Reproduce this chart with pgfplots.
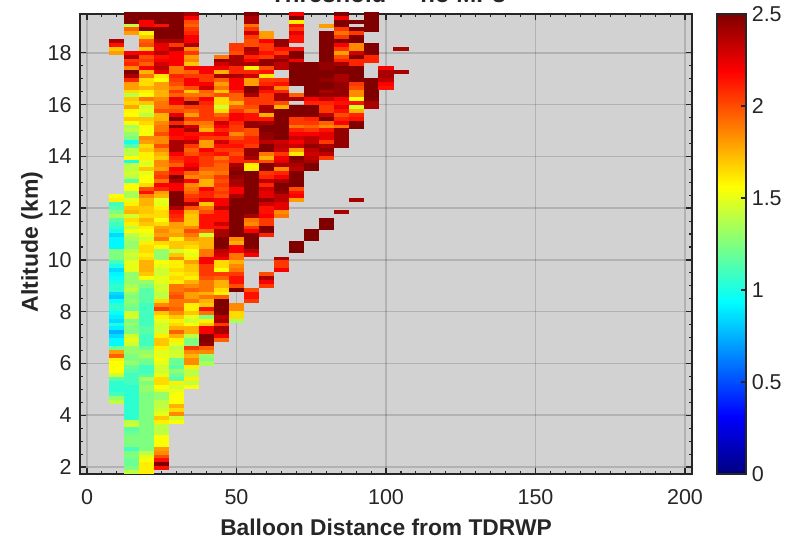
\documentclass[border=0pt]{standalone}
\usepackage{pgfplots}
\pgfplotsset{compat=1.18}
\usepackage{fontspec}
\setmainfont{Liberation Sans}
\definecolor{ink}{HTML}{262626}
\definecolor{panel}{HTML}{D2D2D2}
% one grid cell: 5 units wide, 150 m tall
\pgfdeclareplotmark{cell}{%
  \pgfpathrectangle{\pgfqpoint{-7.55pt}{-2.05pt}}{\pgfqpoint{15.1pt}{4.1pt}}%
  \pgfusepathqfill}
\pgfplotsset{binbox/.style={scatter,only marks,mark=cell,point meta=explicit}}
\begin{document}
\begin{tikzpicture}[x=1pt,y=1pt]
\path[use as bounding box] (0,0) rectangle (796,539);
\begin{axis}[
  at={(80pt,65pt)},anchor=south west,
  scale only axis,width=612pt,height=460pt,
  xmin=-2.34,xmax=202.34,ymin=1.73,ymax=19.5,
  xtick={0,50,100,150,200},ytick={2,4,...,18},
  minor x tick num=9,minor y tick num=3,
  tick align=inside,
  major tick length=6pt,minor tick length=3pt,
  tick style={ink,line width=1.3pt},
  minor tick style={ink,line width=1.1pt},
  axis line style={ink,line width=2.2pt},
  axis background/.style={fill=panel},
  axis on top,
  grid=major,
  major grid style={black,opacity=0.15,line width=1.5pt},
  colormap/jet,
  point meta min=0,point meta max=2.5,
  /pgf/number format/assume math mode=true,
  tick label style={font=\fontsize{21.5}{23}\selectfont,text=ink},
  xticklabel style={yshift=-12pt},
  yticklabel style={xshift=-5pt},
  xlabel={\textbf{Balloon Distance from TDRWP}},
  xlabel style={font=\fontsize{22.8}{25}\selectfont,text=ink,at={(axis description cs:0.5,0)},anchor=base,yshift=-61pt},
  ylabel={\textbf{Altitude (km)}},
  ylabel style={font=\fontsize{23}{25}\selectfont,text=ink,at={(axis description cs:0,0.5)},anchor=base,rotate=0,yshift=42pt,xshift=2pt},
  title={\textbf{Threshold~~= no MPs}},
  title style={font=\fontsize{24}{26}\selectfont,text=ink,at={(axis description cs:0.5,1)},anchor=base,yshift=5pt,xshift=2pt},
  colorbar,
  colorbar/width=29pt,
  colorbar shift/.style={xshift=11pt},
  colorbar style={
    scale only axis,height=460pt,
    ytick={0,0.5,1,1.5,2,2.5},
    minor y tick num=0,
    yticklabel pos=right,ytick pos=right,
    tick align=inside,major tick length=5pt,
    grid=none,
    axis line style={ink,line width=2pt},
    tick style={ink,line width=1.3pt},
    yticklabel style={font=\fontsize{21.5}{23}\selectfont,text=ink,xshift=2pt,
      /pgf/number format/assume math mode=true},
  },
]
\addplot[binbox] table[x expr=10,y=y,meta=c,row sep=\\]{y c\\
18.45 2.4\\ 18.3 2.15\\ 18.15 1.7\\ 18 1.8\\
12.45 1.55\\ 12.3 1.6\\ 12.15 1.1\\ 12 1.15\\ 11.85 1.25\\ 11.7 1.35\\ 11.55 1.15\\ 11.4 1.1\\ 11.25 1.05\\ 11.1 1\\ 10.95 .85\\ 10.8 .92\\ 10.65 .92\\ 10.5 .92\\ 10.35 1.25\\ 10.2 1.25\\ 10.05 1.25\\ 9.9 1.1\\ 9.75 1\\ 9.6 .85\\ 9.45 .92\\ 9.3 .95\\ 9.15 1\\ 9 1.05\\ 8.85 1.05\\ 8.7 .85\\ 8.55 .8\\ 8.4 .95\\ 8.25 1.05\\ 8.1 1.05\\ 7.95 .95\\ 7.8 .9\\ 7.65 .85\\ 7.5 1\\ 7.35 .9\\ 7.2 .75\\ 7.05 .85\\ 6.9 .93\\ 6.75 .93\\ 6.6 1.2\\ 6.45 1.8\\ 6.3 1.95\\ 6.15 1.6\\ 6 1.56\\ 5.85 1.56\\ 5.7 1.56\\ 5.55 1.45\\ 5.4 1.15\\ 5.25 1.05\\ 5.1 1.05\\ 4.95 1.05\\ 4.8 1.1\\ 4.65 1.3\\ 4.5 1.4\\
};
\addplot[binbox] table[x expr=15,y=y,meta=c,row sep=\\]{y c\\
19.5 2.5\\ 19.35 2.5\\ 19.2 2.5\\ 19.05 1.4\\ 18.9 1.95\\ 18.75 1.8\\
18 2.2\\ 17.85 2.4\\ 17.7 2.05\\ 17.55 2.1\\ 17.4 1.85\\ 17.25 2.5\\ 17.1 2.4\\ 16.95 2.1\\ 16.8 1.8\\ 16.65 1.8\\ 16.5 1.65\\ 16.35 1.4\\ 16.2 1.7\\ 16.05 1.65\\ 15.9 1.78\\ 15.75 1.58\\ 15.6 1.56\\ 15.45 1.7\\ 15.3 1.55\\ 15.15 1.35\\ 15 1.4\\ 14.85 1.3\\ 14.7 1.25\\ 14.55 1\\ 14.4 1.15\\ 14.25 1.4\\ 14.1 1.4\\ 13.95 1.55\\ 13.8 1\\ 13.65 1.4\\ 13.5 1.4\\ 13.35 1.45\\ 13.2 1.4\\ 13.05 1.15\\ 12.9 1.55\\ 12.75 1.55\\ 12.6 1.35\\ 12.45 1.35\\ 12.3 1.5\\ 12.15 1.6\\ 12 1.7\\ 11.85 1.75\\ 11.7 1.45\\ 11.55 1.65\\ 11.4 1.6\\ 11.25 1.4\\ 11.1 1.55\\ 10.95 1.4\\ 10.8 1.35\\ 10.65 1.3\\ 10.5 1.3\\ 10.35 1.4\\ 10.2 1.45\\ 10.05 1.4\\ 9.9 1.5\\ 9.75 1.5\\ 9.6 1.5\\ 9.45 1.3\\ 9.3 1.3\\ 9.15 1.3\\ 9 1.35\\ 8.85 1.4\\ 8.7 1.3\\ 8.55 1.25\\ 8.4 1.3\\ 8.25 1.25\\ 8.1 1.2\\ 7.95 1.45\\ 7.8 1.45\\ 7.65 1.25\\ 7.5 1.3\\ 7.35 1.25\\ 7.2 1.25\\ 7.05 1.45\\ 6.9 1.5\\ 6.75 1.45\\ 6.6 1.3\\ 6.45 1.3\\ 6.3 1.25\\ 6.15 1.25\\ 6 1.3\\ 5.85 1.2\\ 5.7 1.15\\ 5.55 1.1\\ 5.4 1.1\\ 5.25 1.1\\ 5.1 1.05\\ 4.95 1.05\\ 4.8 1.05\\ 4.65 1.05\\ 4.5 1.05\\ 4.35 1.05\\ 4.2 1.05\\ 4.05 1.05\\ 3.9 1.05\\ 3.75 1.4\\ 3.6 1.45\\ 3.45 1.15\\ 3.3 1.2\\ 3.15 1.25\\ 3 1.25\\ 2.85 1.25\\ 2.7 1.1\\ 2.55 1.25\\ 2.4 1.25\\ 2.25 1.2\\ 2.1 1.2\\ 1.95 1.25\\ 1.8 1.4\\
};
\addplot[binbox] table[x expr=20,y=y,meta=c,row sep=\\]{y c\\
19.5 2.5\\ 19.35 2.5\\ 19.2 2.2\\ 19.05 2.2\\ 18.9 2.5\\ 18.75 1.58\\ 18.6 1.7\\ 18.45 1.95\\ 18.3 2\\ 18.15 1.7\\ 18 2.2\\ 17.85 2\\ 17.7 2.05\\ 17.55 1.95\\ 17.4 2.2\\ 17.25 1.75\\ 17.1 1.9\\ 16.95 1.65\\ 16.8 1.65\\ 16.65 1.75\\ 16.5 1.6\\ 16.35 1.55\\ 16.2 1.9\\ 16.05 1.7\\ 15.9 1.45\\ 15.75 1.5\\ 15.6 1.4\\ 15.45 1.7\\ 15.3 1.65\\ 15.15 1.58\\ 15 1.55\\ 14.85 1.55\\ 14.7 1.85\\ 14.55 1.8\\ 14.4 1.65\\ 14.25 1.7\\ 14.1 1.6\\ 13.95 1.6\\ 13.8 1.5\\ 13.65 1.5\\ 13.5 1.7\\ 13.35 1.5\\ 13.2 1.55\\ 13.05 1.55\\ 12.9 1.65\\ 12.75 2\\ 12.6 2.15\\ 12.45 1.85\\ 12.3 1.75\\ 12.15 1.75\\ 12 1.7\\ 11.85 1.7\\ 11.7 1.65\\ 11.55 1.75\\ 11.4 1.7\\ 11.25 1.6\\ 11.1 1.55\\ 10.95 1.5\\ 10.8 1.45\\ 10.65 1.6\\ 10.5 1.65\\ 10.35 1.65\\ 10.2 1.6\\ 10.05 1.65\\ 9.9 1.75\\ 9.75 1.75\\ 9.6 1.75\\ 9.45 1.7\\ 9.3 1.55\\ 9.15 1.3\\ 9 1.25\\ 8.85 1.15\\ 8.7 1.15\\ 8.55 1.15\\ 8.4 1.15\\ 8.25 1.1\\ 8.1 1.1\\ 7.95 1.1\\ 7.8 1.1\\ 7.65 1.1\\ 7.5 1.1\\ 7.35 1.15\\ 7.2 1.15\\ 7.05 1.1\\ 6.9 1.1\\ 6.75 1.1\\ 6.6 1.2\\ 6.45 1.3\\ 6.3 1.35\\ 6.15 1.25\\ 6 1.2\\ 5.85 1.1\\ 5.7 1.1\\ 5.55 1.15\\ 5.4 1.35\\ 5.25 1.25\\ 5.1 1.3\\ 4.95 1.3\\ 4.8 1.25\\ 4.65 1.25\\ 4.5 1.25\\ 4.35 1.25\\ 4.2 1.25\\ 4.05 1.25\\ 3.9 1.25\\ 3.75 1.25\\ 3.6 1.25\\ 3.45 1.25\\ 3.3 1.25\\ 3.15 1.25\\ 3 1.25\\ 2.85 1.25\\ 2.7 1.25\\ 2.55 1.4\\ 2.4 1.5\\ 2.25 1.55\\ 2.1 1.6\\ 1.95 1.6\\ 1.8 1.6\\
};
\addplot[binbox] table[x expr=25,y=y,meta=c,row sep=\\]{y c\\
19.5 2.5\\ 19.35 2.5\\ 19.2 2.5\\ 19.05 2.15\\ 18.9 2.5\\ 18.75 2.5\\ 18.6 2.5\\ 18.45 2.4\\ 18.3 2.25\\ 18.15 2.25\\ 18 2.35\\ 17.85 2.15\\ 17.7 2.2\\ 17.55 2.3\\ 17.4 2.35\\ 17.25 2.25\\ 17.1 1.62\\ 16.95 1.56\\ 16.8 1.8\\ 16.65 1.8\\ 16.5 1.75\\ 16.35 1.75\\ 16.2 1.85\\ 16.05 1.9\\ 15.9 1.9\\ 15.75 2\\ 15.6 1.75\\ 15.45 1.75\\ 15.3 1.85\\ 15.15 1.9\\ 15 1.9\\ 14.85 2\\ 14.7 1.85\\ 14.55 1.85\\ 14.4 2\\ 14.25 1.85\\ 14.1 1.75\\ 13.95 1.7\\ 13.8 1.85\\ 13.65 1.85\\ 13.5 1.8\\ 13.35 2\\ 13.2 2.05\\ 13.05 1.9\\ 12.9 2.2\\ 12.75 2.1\\ 12.6 1.8\\ 12.45 1.75\\ 12.3 1.5\\ 12.15 1.5\\ 12 1.6\\ 11.85 1.65\\ 11.7 1.65\\ 11.55 1.55\\ 11.4 1.65\\ 11.25 1.8\\ 11.1 1.85\\ 10.95 1.8\\ 10.8 1.9\\ 10.65 1.65\\ 10.5 1.58\\ 10.35 1.3\\ 10.2 1.3\\ 10.05 1.3\\ 9.9 1.55\\ 9.75 1.5\\ 9.6 1.45\\ 9.45 1.45\\ 9.3 1.5\\ 9.15 1.5\\ 9 1.45\\ 8.85 1.45\\ 8.7 1.4\\ 8.55 1.4\\ 8.4 1.65\\ 8.25 1.85\\ 8.1 2.05\\ 7.95 1.7\\ 7.8 1.6\\ 7.65 1.5\\ 7.5 1.45\\ 7.35 1.45\\ 7.2 1.45\\ 7.05 1.6\\ 6.9 1.7\\ 6.75 1.7\\ 6.6 1.6\\ 6.45 1.5\\ 6.3 1.5\\ 6.15 1.55\\ 6 1.5\\ 5.85 1.45\\ 5.7 1.45\\ 5.55 1.5\\ 5.4 1.65\\ 5.25 1.65\\ 5.1 1.55\\ 4.95 1.5\\ 4.8 1.3\\ 4.65 1.3\\ 4.5 1.4\\ 4.35 1.4\\ 4.2 1.45\\ 4.05 1.5\\ 3.9 1.7\\ 3.75 1.6\\ 3.6 1.4\\ 3.45 1.4\\ 3.3 1.4\\ 3.15 1.55\\ 3 1.55\\ 2.85 1.55\\ 2.7 1.8\\ 2.55 1.85\\ 2.4 2\\ 2.25 2.15\\ 2.1 2.5\\ 1.95 2.15\\
};
\addplot[binbox] table[x expr=30,y=y,meta=c,row sep=\\]{y c\\
19.5 2.5\\ 19.35 2.5\\ 19.2 2.5\\ 19.05 2.5\\ 18.9 2.5\\ 18.75 2.5\\ 18.6 2.5\\ 18.45 2.4\\ 18.3 2.05\\ 18.15 2.4\\ 18 2.2\\ 17.85 2.2\\ 17.7 2.2\\ 17.55 2.2\\ 17.4 1.9\\ 17.25 1.9\\ 17.1 2.1\\ 16.95 2.05\\ 16.8 2\\ 16.65 1.9\\ 16.5 2.05\\ 16.35 1.95\\ 16.2 2.25\\ 16.05 2.2\\ 15.9 1.95\\ 15.75 2\\ 15.6 2.25\\ 15.45 2.5\\ 15.3 2.1\\ 15.15 2.5\\ 15 2.2\\ 14.85 2.2\\ 14.7 2.15\\ 14.55 2.4\\ 14.4 2.4\\ 14.25 2.4\\ 14.1 2.2\\ 13.95 2.1\\ 13.8 2.05\\ 13.65 1.95\\ 13.5 2.2\\ 13.35 2.15\\ 13.2 2.5\\ 13.05 2.4\\ 12.9 2.2\\ 12.75 2.2\\ 12.6 2.5\\ 12.45 2.5\\ 12.3 2.5\\ 12.15 2.5\\ 12 2.4\\ 11.85 2.15\\ 11.7 2.1\\ 11.55 2.05\\ 11.4 1.8\\ 11.25 1.8\\ 11.1 1.75\\ 10.95 1.8\\ 10.8 1.6\\ 10.65 1.7\\ 10.5 1.7\\ 10.35 1.45\\ 10.2 1.7\\ 10.05 1.85\\ 9.9 1.6\\ 9.75 1.6\\ 9.6 1.65\\ 9.45 1.6\\ 9.3 1.65\\ 9.15 1.6\\ 9 1.9\\ 8.85 1.9\\ 8.7 1.95\\ 8.55 2\\ 8.4 1.9\\ 8.25 1.9\\ 8.1 1.95\\ 7.95 1.85\\ 7.8 1.7\\ 7.65 1.6\\ 7.5 1.65\\ 7.35 1.75\\ 7.2 1.95\\ 7.05 1.75\\ 6.9 1.6\\ 6.75 1.5\\ 6.6 1.4\\ 6.45 1.45\\ 6.3 1.45\\ 6.15 1.2\\ 6 1.2\\ 5.85 1.15\\ 5.7 1.3\\ 5.55 1.2\\ 5.4 1.15\\ 5.25 1.6\\ 5.1 1.45\\ 4.95 1.5\\ 4.8 1.55\\ 4.65 1.55\\ 4.5 1.55\\ 4.35 1.75\\ 4.2 1.65\\ 4.05 1.85\\ 3.9 1.45\\ 3.75 1.55\\
};
\addplot[binbox] table[x expr=35,y=y,meta=c,row sep=\\]{y c\\
19.5 2.4\\ 19.35 2.2\\ 19.2 2\\ 19.05 1.95\\ 18.9 2.05\\ 18.75 2.1\\ 18.6 2.2\\ 18.45 2.2\\ 18.3 2.4\\ 18.15 1.85\\ 18 2.05\\ 17.85 1.8\\ 17.7 1.85\\ 17.55 1.7\\ 17.4 2.2\\ 17.25 1.95\\ 17.1 2.05\\ 16.95 2.2\\ 16.8 2.2\\ 16.65 2\\ 16.5 1.7\\ 16.35 1.9\\ 16.2 2\\ 16.05 2.5\\ 15.9 2.05\\ 15.75 1.95\\ 15.6 1.8\\ 15.45 2.05\\ 15.3 1.9\\ 15.15 2.3\\ 15 2.4\\ 14.85 2.15\\ 14.7 2.2\\ 14.55 2.35\\ 14.4 2.05\\ 14.25 1.95\\ 14.1 2\\ 13.95 2.15\\ 13.8 2.15\\ 13.65 2.2\\ 13.5 2.3\\ 13.35 1.95\\ 13.2 1.85\\ 13.05 2.2\\ 12.9 1.85\\ 12.75 1.9\\ 12.6 1.95\\ 12.45 2.05\\ 12.3 2.1\\ 12.15 2.4\\ 12 2\\ 11.85 1.75\\ 11.7 1.7\\ 11.55 1.7\\ 11.4 1.7\\ 11.25 1.85\\ 11.1 2\\ 10.95 1.9\\ 10.8 1.8\\ 10.65 1.7\\ 10.5 1.65\\ 10.35 1.55\\ 10.2 1.5\\ 10.05 1.6\\ 9.9 1.8\\ 9.75 1.7\\ 9.6 1.7\\ 9.45 1.65\\ 9.3 1.6\\ 9.15 1.75\\ 9 1.85\\ 8.85 1.95\\ 8.7 1.8\\ 8.55 1.8\\ 8.4 1.9\\ 8.25 1.6\\ 8.1 1.6\\ 7.95 1.7\\ 7.8 1.5\\ 7.65 1.45\\ 7.5 1.55\\ 7.35 1.75\\ 7.2 1.75\\ 7.05 1.4\\ 6.9 1.25\\ 6.75 1.25\\ 6.6 2.05\\ 6.45 1.85\\ 6.3 1.75\\ 6.15 1.85\\ 6 1.85\\ 5.85 1.6\\ 5.7 1.4\\ 5.55 1.4\\ 5.4 1.6\\ 5.25 1.4\\ 5.1 1.55\\
};
\addplot[binbox] table[x expr=40,y=y,meta=c,row sep=\\]{y c\\
17.4 2.2\\ 17.25 2.2\\ 17.1 2.05\\ 16.95 2.05\\ 16.8 2.2\\ 16.65 2.3\\ 16.5 1.95\\ 16.35 1.9\\ 16.2 2.2\\ 16.05 2.1\\ 15.9 2.05\\ 15.75 2.05\\ 15.6 2.05\\ 15.45 2.05\\ 15.3 1.9\\ 15.15 1.85\\ 15 1.75\\ 14.85 2.15\\ 14.7 2.05\\ 14.55 1.8\\ 14.4 1.8\\ 14.25 2.2\\ 14.1 2.1\\ 13.95 2.05\\ 13.8 2.05\\ 13.65 2.05\\ 13.5 1.95\\ 13.35 1.85\\ 13.2 1.9\\ 13.05 1.75\\ 12.9 1.75\\ 12.75 2.2\\ 12.6 2.1\\ 12.45 2.1\\ 12.3 2.25\\ 12.15 1.7\\ 12 1.9\\ 11.85 2\\ 11.7 2.15\\ 11.55 2.15\\ 11.4 2.15\\ 11.25 2.15\\ 11.1 1.95\\ 10.95 1.45\\ 10.8 1.75\\ 10.65 1.75\\ 10.5 1.75\\ 10.35 1.9\\ 10.2 1.9\\ 10.05 2.2\\ 9.9 2.2\\ 9.75 2.05\\ 9.6 2.05\\ 9.45 2.05\\ 9.3 2\\ 9.15 1.9\\ 9 1.9\\ 8.85 1.9\\ 8.7 1.75\\ 8.55 1.9\\ 8.4 1.75\\ 8.25 1.7\\ 8.1 2.15\\ 7.95 1.9\\ 7.8 1.25\\ 7.65 1.6\\ 7.5 1.7\\ 7.35 2.2\\ 7.2 2.2\\ 7.05 2.5\\ 6.9 2.5\\ 6.75 2.45\\ 6.6 1.95\\ 6.45 1.85\\ 6.3 1.3\\ 6.15 1.25\\ 6 1.35\\
};
\addplot[binbox] table[x expr=45,y=y,meta=c,row sep=\\]{y c\\
17.85 1.9\\ 17.7 2.45\\ 17.55 2.3\\ 17.4 2.2\\ 17.25 1.75\\ 17.1 2.4\\ 16.95 1.95\\ 16.8 1.8\\ 16.65 1.9\\ 16.5 1.7\\ 16.35 2\\ 16.2 1.65\\ 16.05 1.65\\ 15.9 1.45\\ 15.75 1.65\\ 15.6 1.95\\ 15.45 2.05\\ 15.3 2.3\\ 15.15 2.2\\ 15 2.1\\ 14.85 2.2\\ 14.7 2.05\\ 14.55 2.3\\ 14.4 2.15\\ 14.25 2.05\\ 14.1 2.15\\ 13.95 1.9\\ 13.8 2\\ 13.65 1.95\\ 13.5 1.95\\ 13.35 1.9\\ 13.2 2.05\\ 13.05 2\\ 12.9 2.05\\ 12.75 2\\ 12.6 2.05\\ 12.45 2\\ 12.3 2.2\\ 12.15 2.2\\ 12 2.35\\ 11.85 2.15\\ 11.7 2.15\\ 11.55 2.15\\ 11.4 2.3\\ 11.25 2.15\\ 11.1 2.4\\ 10.95 2.4\\ 10.8 2.5\\ 10.65 2.5\\ 10.5 2.5\\ 10.35 2.35\\ 10.2 2.3\\ 10.05 2.2\\ 9.9 1.65\\ 9.75 1.65\\ 9.6 1.55\\ 9.45 2.05\\ 9.3 1.95\\ 9.15 1.75\\ 9 1.75\\ 8.85 1.65\\ 8.7 1.6\\ 8.55 1.95\\ 8.4 2.5\\ 8.25 2.5\\ 8.1 2.5\\ 7.95 2.5\\ 7.8 2.35\\ 7.65 2.4\\ 7.5 2.05\\ 7.35 2.4\\ 7.2 2.4\\ 7.05 2.2\\ 6.9 1.95\\
};
\addplot[binbox] table[x expr=50,y=y,meta=c,row sep=\\]{y c\\
18.3 2.05\\ 18.15 2.05\\ 18 2\\ 17.85 2.4\\ 17.7 2.4\\ 17.55 2.4\\ 17.4 2.1\\ 17.25 2.1\\ 17.1 2.4\\ 16.95 2.2\\ 16.8 2.2\\ 16.65 2.2\\ 16.5 2.1\\ 16.35 1.95\\ 16.2 1.95\\ 16.05 1.75\\ 15.9 1.95\\ 15.75 2.05\\ 15.6 2.2\\ 15.45 2.2\\ 15.3 2.1\\ 15.15 2.05\\ 15 2.05\\ 14.85 1.85\\ 14.7 2\\ 14.55 2.1\\ 14.4 2.15\\ 14.25 2.05\\ 14.1 2\\ 13.95 2.1\\ 13.8 2.1\\ 13.65 2.4\\ 13.5 2.45\\ 13.35 2.5\\ 13.2 2.45\\ 13.05 2.4\\ 12.9 2.4\\ 12.75 2.2\\ 12.6 2.2\\ 12.45 2.4\\ 12.3 2.5\\ 12.15 2.5\\ 12 2.5\\ 11.85 2.5\\ 11.7 2.5\\ 11.55 2.5\\ 11.4 2.5\\ 11.25 2.5\\ 11.1 2.5\\ 10.95 2.5\\ 10.8 1.85\\ 10.65 1.75\\ 10.5 2.2\\ 10.35 2.2\\ 10.2 1.9\\ 10.05 1.9\\ 9.9 1.75\\ 9.75 1.85\\ 9.6 1.9\\ 9.45 2.05\\ 9.3 2.15\\ 9.15 2.15\\ 9 2\\ 8.85 2.5\\
8.25 1.85\\ 8.1 1.85\\ 7.95 1.65\\ 7.8 1.65\\ 7.65 1.35\\
};
\addplot[binbox] table[x expr=55,y=y,meta=c,row sep=\\]{y c\\
19.5 2.5\\ 19.35 2.4\\ 19.2 2.4\\ 19.05 1.9\\ 18.9 2.05\\ 18.75 2.3\\ 18.6 2.05\\ 18.45 2\\ 18.3 2\\ 18.15 2.4\\ 18 2.35\\ 17.85 2.1\\ 17.7 2.2\\ 17.55 2.4\\ 17.4 1.6\\ 17.25 2.1\\ 17.1 2.3\\ 16.95 1.8\\ 16.8 1.8\\ 16.65 2.5\\ 16.5 2.5\\ 16.35 2.4\\ 16.2 2.05\\ 16.05 2.05\\ 15.9 2\\ 15.75 1.9\\ 15.6 2.15\\ 15.45 2.15\\ 15.3 2.45\\ 15.15 2.45\\ 15 2\\ 14.85 2\\ 14.7 2.1\\ 14.55 2.1\\ 14.4 2.05\\ 14.25 2.45\\ 14.1 2.45\\ 13.95 2.4\\ 13.8 2.1\\ 13.65 1.6\\ 13.5 1.6\\ 13.35 2.5\\ 13.2 2.5\\ 13.05 2.5\\ 12.9 2.5\\ 12.75 2.5\\ 12.6 2.5\\ 12.45 2.5\\ 12.3 2.5\\ 12.15 2.5\\ 12 2.5\\ 11.85 2.5\\ 11.7 2.4\\ 11.55 1.9\\ 11.4 1.85\\ 11.25 2.05\\ 11.1 2.2\\ 10.95 2.5\\ 10.8 2.5\\ 10.65 2.5\\ 10.5 2.5\\ 10.35 2.35\\ 10.2 2.2\\
8.85 2\\ 8.7 2.15\\ 8.55 2.15\\ 8.4 2.05\\
};
\addplot[binbox] table[x expr=60,y=y,meta=c,row sep=\\]{y c\\
18.75 1.8\\ 18.6 1.8\\ 18.45 2.2\\ 18.3 2.05\\ 18.15 2.05\\ 18 2.15\\ 17.85 2.05\\ 17.7 2.45\\ 17.55 2.45\\ 17.4 2\\ 17.25 2.15\\ 17.1 1.62\\ 16.95 2.05\\ 16.8 2.1\\ 16.65 2.3\\ 16.5 2.15\\ 16.35 2.05\\ 16.2 2.05\\ 16.05 2.05\\ 15.9 2.4\\ 15.75 2.4\\ 15.6 1.75\\ 15.45 2.15\\ 15.3 2.4\\ 15.15 2.5\\ 15 2.5\\ 14.85 2.45\\ 14.7 2.45\\ 14.55 2.35\\ 14.4 2.5\\ 14.25 2.5\\ 14.1 1.9\\ 13.95 1.75\\ 13.8 2\\ 13.65 2.5\\ 13.5 2.5\\ 13.35 2.05\\ 13.2 2.1\\ 13.05 2.35\\ 12.9 2.1\\ 12.75 2.3\\ 12.6 2.25\\ 12.45 2.25\\ 12.3 2.45\\ 12.15 2.3\\ 12 2.15\\ 11.85 2.15\\ 11.7 2.2\\ 11.55 2.05\\ 11.4 2.05\\ 11.25 2.5\\ 11.1 2.5\\ 10.95 2.1\\
9.45 2\\ 9.3 2.4\\ 9.15 2.2\\ 9 2.05\\
};
\addplot[binbox] table[x expr=65,y=y,meta=c,row sep=\\]{y c\\
18.45 2.45\\ 18.3 2.45\\ 18.15 2.15\\ 18 2.05\\ 17.85 2.35\\ 17.7 2.45\\ 17.55 2.35\\ 17.4 2.35\\ 16.95 2.05\\ 16.8 2.15\\ 16.65 1.85\\ 16.5 2.1\\ 16.35 2.4\\ 16.2 2.4\\ 16.05 2\\ 15.9 1.75\\ 15.75 2.5\\ 15.6 2.5\\ 15.45 2.5\\ 15.3 2.5\\ 15.15 2.5\\ 15 2.5\\ 14.85 2.5\\ 14.7 2.5\\ 14.55 2.3\\ 14.4 2.35\\ 14.25 2.3\\ 14.1 2.05\\ 13.95 2.2\\ 13.8 2.25\\ 13.65 2.4\\ 13.5 1.85\\ 13.35 2.1\\ 13.2 2.2\\ 13.05 2.4\\ 12.9 2.5\\ 12.75 2.5\\ 12.6 2.45\\ 12.45 2.35\\ 12.3 2.35\\ 12.15 2.25\\ 12 2.25\\ 11.85 1.85\\ 11.7 1.9\\
10.05 2.4\\ 9.9 2.05\\ 9.75 2.05\\ 9.6 2.2\\
};
\addplot[binbox] table[x expr=70,y=y,meta=c,row sep=\\]{y c\\
19.5 2.2\\ 19.35 2.5\\ 19.2 1.6\\ 19.05 2.15\\ 18.9 2.05\\ 18.75 2.25\\ 18.6 2.15\\ 18.45 2.15\\ 18.15 2.15\\ 18 2.5\\ 17.85 2.5\\ 17.7 2.2\\ 17.55 2.5\\ 17.4 2.5\\ 17.25 2.5\\ 17.1 2.5\\ 16.95 2.5\\ 16.8 2.5\\ 16.35 1.95\\ 16.2 2.4\\ 15.9 2.5\\ 15.75 2.5\\ 15.6 2.5\\ 15.45 2.05\\ 15.3 2.05\\ 15.15 1.9\\ 15 2.1\\ 14.85 2.2\\ 14.7 2.3\\ 14.55 2.2\\ 14.4 2.3\\ 14.25 1.8\\ 14.1 1.62\\ 13.95 2.5\\ 13.8 2.45\\ 13.65 2.4\\ 13.5 2.35\\ 13.35 2.5\\ 13.2 2.5\\ 13.05 2.5\\ 12.9 2.5\\ 12.75 2\\ 12.6 2.15\\ 12.45 2.2\\ 12.3 1.8\\
10.65 2.5\\ 10.5 2.5\\ 10.35 2.5\\
};
\addplot[binbox] table[x expr=75,y=y,meta=c,row sep=\\]{y c\\
17.55 2.5\\ 17.4 2.5\\ 17.25 2.5\\ 17.1 2.5\\ 16.95 2.5\\ 16.8 2.5\\ 16.65 2.5\\ 16.5 2.5\\ 16.35 2.5\\ 16.2 2.2\\ 16.05 2.1\\ 15.9 2.5\\ 15.75 2.5\\ 15.6 2.5\\ 15.45 2.1\\ 15.3 2.05\\ 15.15 1.95\\ 15 2.05\\ 14.85 2.2\\ 14.7 2.35\\ 14.55 2.35\\ 14.4 2.45\\ 14.25 2.35\\ 14.1 2.3\\ 13.95 2.35\\ 13.8 2.4\\ 13.65 2.5\\ 13.5 2.5\\
11.1 2.5\\ 10.95 2.5\\ 10.8 2.5\\
};
\addplot[binbox] table[x expr=80,y=y,meta=c,row sep=\\]{y c\\
19.05 1.8\\ 18.75 2.5\\ 18.6 2.5\\ 18.45 2.5\\ 18.3 2.5\\ 18.15 2.5\\ 18 2.5\\ 17.85 2.5\\ 17.7 2.5\\ 17.55 2.45\\ 17.4 2.45\\ 17.25 2.5\\ 17.1 2.5\\ 16.95 2.45\\ 16.8 2.5\\ 16.65 2.5\\ 16.5 2.4\\ 16.35 2.45\\ 16.2 2.3\\ 16.05 2.1\\ 15.9 2.05\\ 15.75 2.05\\ 15.6 2.35\\ 15.45 2.5\\ 15.3 1.95\\ 15.15 1.85\\ 15 2.15\\ 14.85 2.25\\ 14.7 2.25\\ 14.55 2.05\\ 14.4 2.4\\ 14.25 2.45\\ 14.1 2.35\\ 13.95 2.05\\
11.55 2.5\\ 11.4 2.5\\ 11.25 2.5\\
};
\addplot[binbox] table[x expr=85,y=y,meta=c,row sep=\\]{y c\\
19.5 2.5\\ 19.35 2.2\\ 19.2 2.5\\ 19.05 2.5\\ 18.9 2.05\\ 18.75 1.9\\ 18.6 2.05\\ 18.45 2.5\\ 18.3 2.2\\ 18.15 2.05\\ 18 1.8\\ 17.85 2\\ 17.7 2.1\\ 17.55 2.4\\ 17.4 2.5\\ 17.25 2.5\\ 17.1 2.4\\ 16.95 2.4\\ 16.8 2.45\\ 16.65 2.45\\ 16.5 2.45\\ 16.35 2.45\\ 16.2 2.2\\ 16.05 2.15\\ 15.9 2.25\\ 15.75 2.15\\ 15.6 2\\ 15.45 2.1\\ 15.3 2.2\\ 15.15 1.9\\ 15 2.45\\ 14.85 2.45\\ 14.7 2.45\\ 14.55 2.45\\ 14.4 2.45\\
11.85 2.4\\
};
\addplot[binbox] table[x expr=90,y=y,meta=c,row sep=\\]{y c\\
19.2 2.5\\ 18.9 2.5\\ 18.75 2.05\\ 18.6 2.5\\ 18.45 2.5\\ 18.3 1.85\\ 18.15 1.85\\ 18 2.3\\ 17.85 2.5\\ 17.7 2.1\\ 17.55 2.1\\ 17.4 2.5\\ 17.25 2.5\\ 17.1 2.5\\ 16.95 2.5\\ 16.8 2.05\\ 16.65 2\\ 16.5 1.85\\ 16.35 1.85\\ 16.2 1.55\\ 16.05 2.15\\ 15.9 1.45\\ 15.75 1.75\\ 15.6 2.1\\ 15.45 2.15\\ 15.3 2.5\\ 15.15 2.5\\
12.3 2.4\\
};
\addplot[binbox] table[x expr=95,y=y,meta=c,row sep=\\]{y c\\
19.5 2.5\\ 19.35 2.5\\ 19.2 2.5\\ 19.05 2.5\\ 18.9 2.5\\ 18.3 2.5\\ 18.15 2.5\\ 18 2.5\\ 17.85 2.1\\ 17.7 2.1\\ 16.95 2.5\\ 16.8 2.5\\ 16.65 2.5\\ 16.5 2.5\\ 16.35 2.5\\ 16.2 2.5\\ 16.05 2.4\\ 15.9 2.4\\
};
\addplot[binbox] table[x expr=100,y=y,meta=c,row sep=\\]{y c\\
17.4 2.2\\ 17.25 2.4\\ 17.1 2.4\\ 16.95 2.35\\ 16.8 2.2\\ 16.65 2.15\\
};
\addplot[binbox] table[x expr=105,y=y,meta=c,row sep=\\]{y c\\
18.15 2.4\\ 17.25 2.4\\
};
\end{axis}
\end{tikzpicture}
\end{document}
